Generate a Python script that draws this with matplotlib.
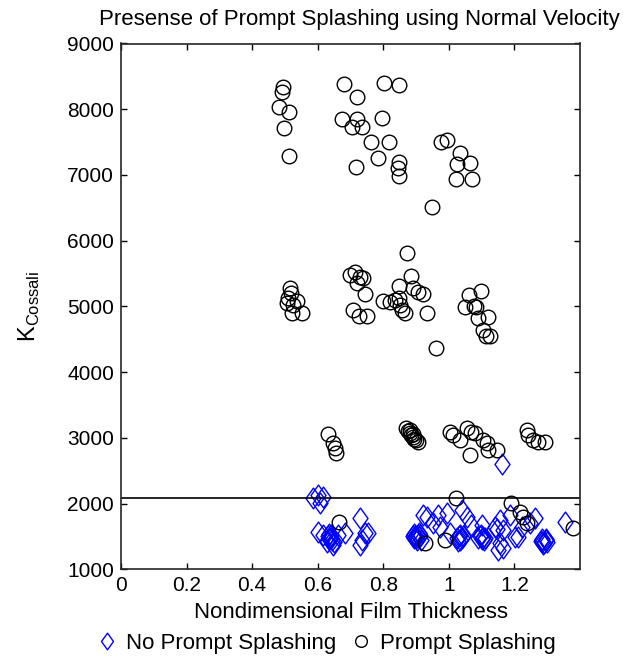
import matplotlib
matplotlib.use("Agg")
import matplotlib.pyplot as plt
from matplotlib.path import Path

plt.rcParams['font.family'] = ['Liberation Sans', 'DejaVu Sans']
plt.rcParams['mathtext.fontset'] = 'custom'
plt.rcParams['mathtext.rm'] = 'Liberation Sans'

# Prompt Splashing (circles)
splash_x = [0.495, 0.490, 0.483, 0.512, 0.498, 0.511,
            0.679, 0.720, 0.673, 0.720, 0.705, 0.736, 0.764, 0.716,
            0.802, 0.849, 0.797, 0.817, 0.784, 0.849, 0.845, 0.849,
            0.975, 0.993, 1.034, 1.026, 1.066, 1.023, 1.071, 0.949,
            0.515, 0.517, 0.510, 0.505, 0.536, 0.525, 0.523, 0.551,
            0.698, 0.713, 0.729, 0.739, 0.719, 0.744, 0.708, 0.727, 0.751,
            0.871, 0.886, 0.849, 0.891, 0.906, 0.922, 0.800, 0.820, 0.835,
            0.849, 0.851, 0.856, 0.866, 0.934, 0.960,
            1.061, 1.098, 1.048, 1.076, 1.082, 1.089, 1.120, 1.105, 1.113, 1.125,
            0.630, 0.647, 0.652, 0.657,
            0.870, 0.875, 0.880, 0.885, 0.890, 0.895, 0.900, 0.905, 0.880, 0.890,
            1.003, 1.013, 1.034, 1.054, 1.069, 1.079, 1.064, 1.105, 1.115, 1.120, 1.146,
            1.237, 1.242, 1.257, 1.272, 1.293,
            1.023, 1.191, 1.216, 1.226, 1.237, 1.379, 0.665, 0.927, 0.988]
splash_y = [8343, 8267, 8039, 7963, 7710, 7293,
            8380, 8191, 7852, 7852, 7726, 7726, 7506, 7117,
            8404, 8369, 7872, 7506, 7254, 7202, 7101, 6984,
            7506, 7532, 7330, 7163, 7187, 6934, 6934, 6508,
            5276, 5200, 5123, 5047, 5087, 5021, 4895, 4895,
            5478, 5528, 5452, 5428, 5352, 5189, 4945, 4854, 4854,
            5817, 5463, 5311, 5276, 5224, 5189, 5087, 5072, 5098,
            5123, 5021, 4945, 4895, 4895, 4372,
            5174, 5240, 4996, 5006, 4987, 4819, 4843, 4641, 4550, 4550,
            3059, 2917, 2841, 2765,
            3150, 3110, 3070, 3040, 3010, 2985, 2960, 2940, 3120, 3060,
            3094, 3044, 2967, 3145, 3094, 3069, 2739, 2967, 2917, 2815, 2815,
            3120, 3044, 2967, 2942, 2942,
            2080, 2004, 1876, 1800, 1700, 1624, 1715, 1396, 1446]

# No Prompt Splashing (diamonds)
nosplash_x = [0.586, 0.602, 0.617, 0.607, 1.161,
              0.602, 0.617, 0.630, 0.635, 0.640, 0.645, 0.638, 0.647, 0.662, 0.683,
              0.628, 0.642, 0.650, 0.633,
              0.729, 0.744, 0.754, 0.734, 0.729,
              0.890, 0.895, 0.900, 0.905, 0.910, 0.915, 0.898, 0.908,
              0.893, 0.903, 0.912, 0.900,
              0.932, 0.952, 0.967, 0.993, 0.973, 1.003, 0.922,
              1.039, 1.054, 1.069,
              1.025, 1.030, 1.035, 1.040, 1.035, 1.028, 1.042,
              1.100,
              1.090, 1.095, 1.100, 1.105, 1.110, 1.097, 1.106,
              1.140, 1.155, 1.166, 1.151, 1.146, 1.156, 1.166,
              1.186, 1.201, 1.222, 1.247, 1.262, 1.212,
              1.280, 1.285, 1.290, 1.295, 1.300, 1.288, 1.283, 1.297,
              1.354]
nosplash_y = [2080, 2130, 2105, 2004, 2602,
              1572, 1522, 1500, 1460, 1520, 1440, 1480, 1370, 1522, 1548,
              1420, 1470, 1410, 1540,
              1776, 1548, 1548, 1446, 1370,
              1500, 1540, 1470, 1520, 1490, 1450, 1510, 1550,
              1480, 1440, 1520, 1500,
              1800, 1700, 1826, 1852, 1648, 1548, 1826,
              1902, 1800, 1674,
              1470, 1500, 1450, 1480, 1520, 1430, 1500,
              1674,
              1480, 1500, 1460, 1490, 1470, 1520, 1440,
              1648, 1750, 1598, 1294, 1620, 1396, 1320,
              1826, 1496, 1648, 1700, 1776, 1496,
              1430, 1460, 1400, 1440, 1420, 1380, 1410, 1460,
              1724]

threshold = 2080

# MATLAB-like diamond (a bit wider than matplotlib's thin diamond)
diamond = Path([(0, 1), (0.72, 0), (0, -1), (-0.72, 0), (0, 1)],
               [Path.MOVETO, Path.LINETO, Path.LINETO, Path.LINETO, Path.CLOSEPOLY])

fig = plt.figure(figsize=(6.39, 6.66), dpi=100)
ax = fig.add_axes([121 / 639, 1 - 569.3 / 666, (580 - 121) / 639, (569.3 - 43.5) / 666])

ax.plot(nosplash_x, nosplash_y, linestyle='none', marker=diamond, color='#0000FF',
        mfc='none', ms=15, mew=1.0, label='No Prompt Splashing')
ax.plot(splash_x, splash_y, 'o', color='black', mfc='none', ms=10.5, mew=1.0,
        label='Prompt Splashing')
ax.axhline(threshold, color='black', lw=1.2)

ax.set_xlim(0, 1.4)
ax.set_ylim(1000, 9000)
ax.set_xticks([0, 0.2, 0.4, 0.6, 0.8, 1, 1.2])
ax.set_xticklabels(['0', '0.2', '0.4', '0.6', '0.8', '1', '1.2'])
ax.set_yticks(range(1000, 9001, 1000))
ax.tick_params(direction='in', top=True, right=True, length=4.5, width=1.0,
               labelsize=15, pad=5)
for s in ax.spines.values():
    s.set_linewidth(1.2)
    s.set_color('#262626')

ax.set_title('Presense of Prompt Splashing using Normal Velocity', fontsize=16, pad=13, x=0.52)
ax.set_xlabel('Nondimensional Film Thickness', fontsize=16, labelpad=5)
ax.set_ylabel(r'K$_{\mathrm{Cossali}}$', fontsize=17, labelpad=18)

fig.legend(loc='lower center', ncol=2, frameon=False, fontsize=16,
           bbox_to_anchor=(0.51, -0.012), handlelength=1.0, handletextpad=0.35,
           columnspacing=0.6, markerscale=0.8)

fig.savefig('out.png', dpi=100)
